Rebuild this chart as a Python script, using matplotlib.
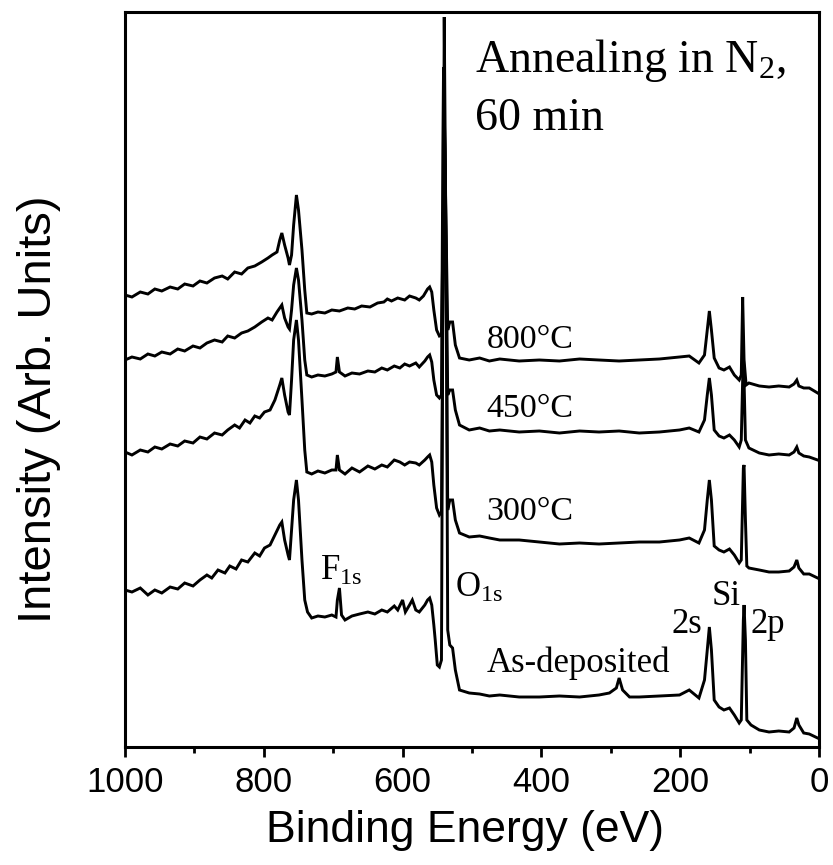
import matplotlib
matplotlib.use("Agg")
import matplotlib.pyplot as plt
from matplotlib.ticker import MultipleLocator

plt.rcParams['mathtext.fontset'] = 'custom'
plt.rcParams['mathtext.rm'] = 'Liberation Serif'
plt.rcParams['mathtext.it'] = 'Liberation Serif'

# ---------------- data (binding energy in eV, intensity in arb. units) ----------------
e_800 = [1000, 990, 978, 967, 957, 947, 935, 924, 914, 902, 892, 882, 871, 860, 852, 842, 832, 823,
         813, 803, 794, 788, 781, 777, 774, 770, 765, 763, 760, 757, 753, 750, 745, 741, 738, 731,
         722, 712, 702, 691, 679, 669, 659, 647, 636, 627, 622, 616, 607, 597, 590, 581, 576, 570,
         564, 561, 558, 555, 551, 547, 544, 541, 540, 538, 535, 532, 528, 524, 518, 504, 489, 475,
         460, 432, 403, 374, 345, 317, 288, 259, 230, 201, 187, 173, 165, 161, 158, 155, 151, 144,
         137, 129, 122, 115, 112, 110, 108, 105, 101, 86, 72, 58, 43, 36, 32, 29, 22, 14, 2]
i_800 = [452, 450, 455, 453, 458, 456, 460, 458, 463, 461, 466, 464, 469, 471, 468, 475, 473, 479,
         481, 485, 489, 492, 495, 507, 514, 502, 489, 482, 492, 522, 552, 537, 497, 457, 434, 433,
         435, 434, 437, 436, 439, 438, 441, 440, 444, 445, 448, 446, 449, 447, 451, 449, 447, 451,
         458, 460, 455, 437, 417, 411, 412, 547, 730, 547, 417, 425, 425, 402, 389, 387, 389, 386,
         388, 386, 387, 386, 388, 387, 386, 387, 388, 390, 391, 384, 392, 417, 436, 417, 389, 379,
         377, 380, 372, 367, 372, 450, 387, 362, 364, 361, 360, 361, 360, 363, 367, 361, 359, 359, 354]

e_450 = [1000, 990, 978, 967, 957, 947, 935, 924, 914, 902, 892, 882, 871, 860, 852, 842, 832, 823,
         813, 803, 794, 788, 781, 777, 774, 770, 765, 763, 760, 757, 753, 750, 745, 741, 738, 731,
         722, 712, 702, 696, 694, 691, 683, 673, 662, 650, 640, 630, 622, 612, 604, 597, 590, 581,
         576, 568, 564, 561, 558, 555, 551, 547, 544, 542, 541, 539, 535, 532, 528, 524, 518, 504,
         489, 475, 460, 432, 403, 374, 345, 317, 288, 259, 230, 201, 187, 173, 165, 161, 158, 155,
         151, 144, 137, 129, 122, 115, 112, 109, 106, 101, 86, 72, 58, 43, 36, 32, 29, 22, 14, 2]
i_450 = [387, 390, 388, 393, 391, 395, 393, 398, 396, 401, 399, 404, 407, 405, 411, 409, 414, 416,
         420, 425, 429, 427, 435, 439, 442, 429, 420, 418, 437, 462, 479, 467, 427, 387, 372, 370,
         372, 371, 373, 375, 390, 375, 371, 374, 373, 376, 375, 379, 377, 381, 379, 383, 381, 384,
         380, 386, 390, 392, 385, 367, 352, 349, 352, 597, 680, 597, 352, 357, 357, 337, 322, 317,
         319, 316, 317, 315, 316, 314, 316, 315, 316, 314, 315, 317, 319, 315, 327, 352, 369, 352,
         317, 311, 309, 312, 307, 300, 307, 397, 307, 299, 294, 292, 293, 292, 295, 300, 294, 291, 290, 287]

e_300 = [1000, 990, 978, 967, 957, 947, 935, 924, 914, 902, 892, 882, 871, 860, 852, 842, 835, 827,
         820, 813, 806, 799, 791, 784, 777, 774, 770, 765, 763, 760, 757, 753, 750, 745, 741, 738,
         731, 722, 712, 702, 696, 694, 691, 683, 673, 662, 650, 640, 630, 622, 612, 604, 597, 590,
         581, 576, 568, 564, 561, 558, 555, 551, 547, 544, 541, 540, 538, 535, 532, 528, 524, 518,
         504, 489, 475, 460, 432, 403, 374, 345, 317, 288, 259, 230, 201, 187, 173, 165, 161, 158,
         155, 151, 144, 137, 129, 122, 115, 112, 109, 108, 106, 104, 101, 86, 72, 58, 43, 36, 32,
         29, 22, 14, 2]
i_300 = [295, 292, 297, 295, 300, 298, 303, 301, 306, 304, 310, 308, 314, 312, 317, 322, 319, 327,
         324, 331, 329, 335, 337, 347, 362, 369, 352, 335, 332, 367, 407, 427, 407, 347, 297, 275,
         273, 276, 274, 277, 277, 292, 277, 273, 279, 275, 281, 278, 282, 280, 287, 285, 282, 285,
         284, 282, 287, 290, 292, 285, 262, 239, 232, 235, 547, 627, 547, 237, 247, 247, 227, 214,
         210, 211, 209, 207, 207, 205, 203, 204, 203, 204, 205, 205, 207, 209, 204, 217, 247, 267,
         247, 201, 197, 195, 198, 192, 184, 187, 279, 282, 227, 181, 179, 177, 175, 175, 176, 180, 187,
         179, 173, 173, 169]

e_dep = [1000, 990, 978, 967, 957, 947, 935, 924, 914, 902, 892, 882, 875, 866, 856, 849, 840, 832,
         823, 813, 806, 799, 791, 784, 777, 774, 770, 765, 763, 760, 757, 753, 750, 745, 741, 737,
         731, 722, 712, 702, 696, 694, 691, 688, 683, 673, 662, 650, 640, 630, 622, 612, 607, 600,
         596, 590, 586, 581, 576, 568, 564, 561, 558, 555, 553, 550, 547, 544, 542, 540, 537, 535,
         532, 528, 524, 518, 504, 489, 475, 460, 432, 403, 374, 345, 317, 302, 292, 288, 283, 273,
         259, 230, 201, 187, 173, 165, 161, 158, 155, 151, 144, 137, 129, 122, 115, 112, 109, 108,
         106, 104, 98, 86, 72, 58, 43, 36, 32, 29, 22, 14, 2]
i_dep = [157, 155, 159, 152, 157, 154, 160, 158, 164, 161, 167, 172, 169, 177, 174, 181, 178, 187,
         185, 194, 191, 199, 202, 212, 222, 225, 207, 192, 187, 217, 247, 267, 247, 187, 147, 135,
         129, 131, 130, 132, 130, 147, 159, 132, 127, 131, 133, 135, 133, 137, 135, 141, 137, 147,
         135, 142, 147, 137, 135, 142, 147, 149, 142, 122, 107, 82, 80, 87, 447, 647, 447, 117,
         102, 99, 77, 57, 54, 53, 51, 52, 50, 50, 51, 50, 52, 54, 59, 69, 57, 50,
         50, 51, 52, 57, 49, 67, 97, 120, 97, 47, 40, 37, 39, 32, 24, 27, 127, 142,
         107, 27, 22, 17, 15, 16, 15, 19, 29, 22, 14, 13, 9]

x_ticks = [1000, 800, 600, 400, 200, 0]
x_tick_labels = ['1000', '800', '600', '400', '200', '0']

# ---------------- figure ----------------
fig = plt.figure(figsize=(8.33, 8.65), dpi=100)
ax = fig.add_axes([125 / 833, (865 - 747) / 865, (819 - 125) / 833, (747 - 12) / 865])

for e, i in [(e_800, i_800), (e_450, i_450), (e_300, i_300), (e_dep, i_dep)]:
    ax.plot(e, i, color='black', lw=2.1, solid_joinstyle='miter')

ax.set_xlim(1000, 0)
ax.set_ylim(0, 735)
ax.set_xticks(x_ticks)
ax.set_xticklabels(x_tick_labels, family='Liberation Sans', fontsize=25)
ax.xaxis.set_minor_locator(MultipleLocator(100))
ax.tick_params(axis='x', which='major', direction='out', length=7, width=2, pad=7,
               top=False)
ax.tick_params(axis='x', which='minor', direction='out', length=4, width=2, top=False)
ax.set_yticks([])
for s in ax.spines.values():
    s.set_linewidth(2.2)

ax.set_xlabel('Binding Energy (eV)', family='Liberation Sans', fontsize=32)
ax.xaxis.set_label_coords(0.49, -0.129)
ax.xaxis.label.set_va('baseline')
ax.set_ylabel('Intensity (Arb. Units)', family='Liberation Sans', fontsize=34)
ax.yaxis.set_label_coords(-0.092, 0.46)
ax.yaxis.label.set_va('bottom')

serif = 'Liberation Serif'
ax.text(496, 675, r'Annealing in N$_2$,', family=serif, fontsize=33, va='baseline')
ax.text(496, 617, '60 min', family=serif, fontsize=33, va='baseline')
ax.text(479, 399, '800°C', family=serif, fontsize=24.5, va='baseline')
ax.text(479, 330, '450°C', family=serif, fontsize=24.5, va='baseline')
ax.text(479, 227, '300°C', family=serif, fontsize=24.5, va='baseline')
ax.text(479, 75, 'As-deposited', family=serif, fontsize=25, va='baseline')
ax.text(719, 167, r'F$_\mathrm{1s}$', family=serif, fontsize=25, va='baseline')
ax.text(525, 150, r'O$_\mathrm{1s}$', family=serif, fontsize=25, va='baseline')
ax.text(155, 142, 'Si', family=serif, fontsize=25, va='baseline')
ax.text(212, 114, '2s', family=serif, fontsize=25, va='baseline')
ax.text(98, 114, '2p', family=serif, fontsize=25, va='baseline')

fig.savefig('out.png', dpi=100)
